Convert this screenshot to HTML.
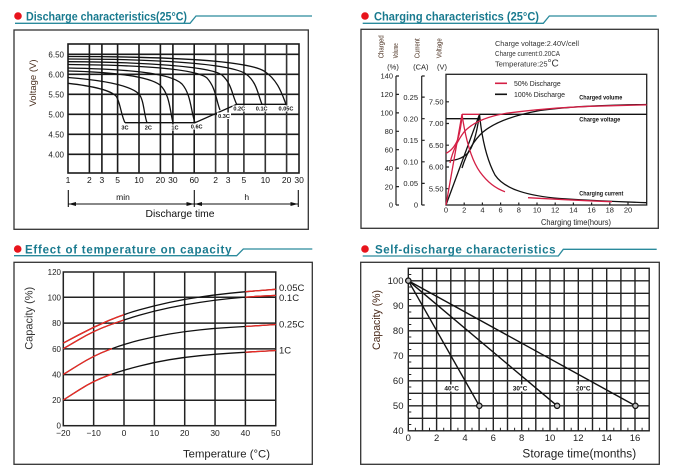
<!DOCTYPE html>
<html><head><meta charset="utf-8"><style>
html,body{margin:0;padding:0;background:#fff;}
svg{display:block;font-family:"Liberation Sans",Arial,sans-serif;}
</style></head><body>
<svg width="674" height="471" viewBox="0 0 674 471" xmlns="http://www.w3.org/2000/svg">
<rect width="674" height="471" fill="#fff"/>
<defs>
<clipPath id="cl0"><rect x="0" y="250" width="124" height="200"/></clipPath>
<clipPath id="cl1"><rect x="0" y="250" width="112" height="200"/></clipPath>
<clipPath id="cr"><rect x="245.4" y="250" width="60" height="200"/></clipPath>
</defs>

<!-- ================= TITLES ================= -->
<g fill="#e8141c">
<circle cx="18" cy="16" r="3.8"/><circle cx="365" cy="16" r="3.8"/>
<circle cx="17.7" cy="249" r="3.8"/><circle cx="365" cy="249" r="3.8"/>
</g>
<g fill="#197a8f" font-weight="bold" font-size="11.5">
<text x="26" y="20.5" textLength="161" lengthAdjust="spacingAndGlyphs">Discharge characteristics(25°C)</text>
<text x="374" y="20.5" textLength="165" lengthAdjust="spacingAndGlyphs">Charging characteristics (25°C)</text>
<text x="25" y="253.5" textLength="206.5" lengthAdjust="spacing">Effect of temperature on capacity</text>
<text x="375" y="253.5" textLength="180.5" lengthAdjust="spacing">Self-discharge characteristics</text>
</g>
<g fill="none" stroke="#2a8a9c" stroke-width="1.3">
<path d="M15,23.3 L190,23.3 L196,16 L312,16"/>
<path d="M362.7,23.3 L543.3,23.3 L549.3,16 L656.7,16"/>
<path d="M14,255.7 L236.7,255.7 L243.3,249 L312.3,249"/>
<path d="M362.7,256 L558.3,256 L563.3,249.3 L656.7,249.3"/>
</g>

<!-- ================= BOXES ================= -->
<g fill="none" stroke="#333" stroke-width="1.3">
<rect x="14" y="30" width="294.3" height="199.3"/>
<rect x="361" y="29.3" width="297.3" height="199"/>
<rect x="14" y="262.3" width="298.3" height="202"/>
<rect x="360.7" y="262.3" width="298.6" height="202"/>
</g>

<!-- ================= PANEL 1: DISCHARGE ================= -->
<g stroke="#1a1a1a" stroke-width="1.6" fill="none">
<rect x="68" y="44" width="231" height="129"/>
<path d="M68,54.3H299M68,74.3H299M68,94.3H299M68,114.3H299M68,134.3H299M68,154.3H299"/>
<path d="M89.4,44V173M101.9,44V173M117.6,44V173M139,44V173M160.4,44V173M172.9,44V173M194.2,44V173"/>
<path d="M215.6,44V173M228.1,44V173M243.9,44V173M265.3,44V173M286.6,44V173" stroke="#333"/>
</g>
<g stroke="#111" stroke-width="1.3" fill="none">
<path d="M68,83.3 C92,86 110,90 116,96 C120,101 121,115 125,122.7"/>
<path d="M68,77.5 C100,80 130,85 139,94 C144,100 144,115 147,122.7"/>
<path d="M68,71 C110,72 148,76 160,85 C170,94 170,112 173,122.7"/>
<path d="M68,68 C120,69 170,72 182,84 C191,94 191,112 195,122.7"/>
<path d="M68,64.5 C130,65 195,68 207,78 C216,88 216,100 220,110"/>
<path d="M68,61.7 C140,62 210,66 222,75 C232,84 232,95 236.7,104.3"/>
<path d="M68,59 C150,59 230,63 246,74 C257,82 258,95 262,104.3"/>
<path d="M68,56.5 C160,56.5 245,60 264,71 C278,80 282,94 286,104.3"/>
<path d="M125,122.7 H195 L236.7,104.3 H286"/>
</g>
<g fill="#fff">
<rect x="119.5" y="124.5" width="11" height="6"/><rect x="142.5" y="124.5" width="11" height="6"/>
<rect x="169.5" y="124.5" width="11" height="6"/><rect x="189.5" y="123.5" width="14" height="6"/>
<rect x="217" y="112.5" width="14" height="6.5"/><rect x="232.5" y="105.5" width="14" height="6"/>
<rect x="255" y="105.5" width="13.5" height="6"/><rect x="277.5" y="105.5" width="17" height="6"/>
</g>
<g font-size="5.6" font-weight="bold" fill="#111" text-anchor="middle">
<text x="125" y="129.5">3C</text><text x="148.3" y="129.5">2C</text><text x="175" y="129.5">1C</text>
<text x="196.7" y="128.7">0.6C</text><text x="224" y="117.8">0.3C</text><text x="239.3" y="110.4">0.2C</text>
<text x="261.7" y="110.4">0.1C</text><text x="286" y="110.4">0.05C</text>
</g>
<g font-size="8" fill="#222" text-anchor="end">
<text x="64" y="57.3">6.50</text><text x="64" y="77.3">6.00</text><text x="64" y="97.3">5.50</text>
<text x="64" y="117.3">5.00</text><text x="64" y="137.3">4.50</text><text x="64" y="157.3">4.00</text>
</g>
<text transform="translate(35.8,83) rotate(-90)" font-size="9.5" fill="#4a3020" text-anchor="middle" textLength="47" lengthAdjust="spacingAndGlyphs">Voltage (V)</text>
<g font-size="8.5" fill="#111" text-anchor="middle">
<text x="68" y="183">1</text><text x="89.4" y="183">2</text><text x="101.9" y="183">3</text><text x="117.6" y="183">5</text>
<text x="139" y="183">10</text><text x="160.4" y="183">20</text><text x="172.9" y="183">30</text><text x="194.2" y="183">60</text>
<text x="215.6" y="183">2</text><text x="228.1" y="183">3</text><text x="243.9" y="183">5</text>
<text x="265.3" y="183">10</text><text x="286.6" y="183">20</text><text x="299.1" y="183">30</text>
<text x="123" y="200">min</text><text x="246.7" y="200">h</text>
<text x="180" y="217" font-size="10.5" textLength="69" lengthAdjust="spacingAndGlyphs">Discharge time</text>
</g>
<g stroke="#111" stroke-width="1.1" fill="none">
<path d="M68.3,190V207M194.3,190V207M298.3,190V207M68.3,204H298.3"/>
</g>
<g fill="#111">
<polygon points="68.5,204 76,202 76,206"/><polygon points="194,204 186.5,202 186.5,206"/>
<polygon points="194.6,204 202,202 202,206"/><polygon points="298,204 290.5,202 290.5,206"/>
</g>

<!-- ================= PANEL 2: CHARGING ================= -->
<g font-size="7.5" fill="#333">
<text x="495" y="46" textLength="84" lengthAdjust="spacingAndGlyphs">Charge voltage:2.40V/cell</text>
<text x="495" y="56" textLength="65" lengthAdjust="spacingAndGlyphs">Charge current:0.20CA</text>
<text x="495" y="66.5">Temperature:25<tspan font-size="10">°C</tspan></text>
</g>
<g font-size="7.5" fill="#4a3020" text-anchor="start">
<text transform="translate(383.5,58.3) rotate(-90)" textLength="23" lengthAdjust="spacingAndGlyphs">Charged</text>
<text transform="translate(398,58.3) rotate(-90)" textLength="15" lengthAdjust="spacingAndGlyphs">Volume</text>
<text transform="translate(419.5,58.3) rotate(-90)" textLength="20" lengthAdjust="spacingAndGlyphs">Current</text>
<text transform="translate(441.6,58.3) rotate(-90)" textLength="20" lengthAdjust="spacingAndGlyphs">Voltage</text>
</g>
<g font-size="7.5" fill="#222" text-anchor="middle">
<text x="393" y="69.5">(%)</text><text x="420.8" y="69.5">(CA)</text><text x="442" y="69.5">(V)</text>
</g>
<g stroke="#222" stroke-width="1.2" fill="none">
<path d="M396,76V205M396,76h3M396,94.4h3M396,112.9h3M396,131.3h3M396,149.7h3M396,168.1h3M396,186.6h3M396,205h3"/>
<path d="M421.7,76V205M421.7,76h3M421.7,97.1h3M421.7,118.7h3M421.7,140.3h3M421.7,161.8h3M421.7,183.4h3M421.7,205h3"/>
<rect x="446" y="74.3" width="200.7" height="130.7" stroke-width="1.3"/>
<path d="M446,101.8h3M446,123.5h3M446,145.2h3M446,167h3M446,188.7h3"/>
<path d="M464.2,205v-2.5M482.4,205v-2.5M500.6,205v-2.5M518.8,205v-2.5M537,205v-2.5M555.2,205v-2.5M573.4,205v-2.5M591.6,205v-2.5M609.8,205v-2.5M628,205v-2.5"/>
</g>
<g font-size="7.5" fill="#222" text-anchor="end">
<text x="393" y="78.7">140</text><text x="393" y="97.1">120</text><text x="393" y="115.6">100</text><text x="393" y="134">80</text>
<text x="393" y="152.4">60</text><text x="393" y="170.8">40</text><text x="393" y="189.3">20</text><text x="393" y="207.7">0</text>
<text x="418" y="99.8">0.25</text><text x="418" y="121.4">0.20</text><text x="418" y="143">0.15</text>
<text x="418" y="164.5">0.10</text><text x="418" y="186.1">0.05</text><text x="418" y="207.7">0</text>
<text x="443.5" y="104.5">7.50</text><text x="443.5" y="126.2">7.00</text><text x="443.5" y="147.9">6.50</text>
<text x="443.5" y="169.7">6.00</text><text x="443.5" y="191.4">5.50</text>
</g>
<g font-size="7.5" fill="#222" text-anchor="middle">
<text x="446" y="212.5">0</text><text x="464.2" y="212.5">2</text><text x="482.4" y="212.5">4</text><text x="500.6" y="212.5">6</text>
<text x="518.8" y="212.5">8</text><text x="537" y="212.5">10</text><text x="555.2" y="212.5">12</text><text x="573.4" y="212.5">14</text>
<text x="591.6" y="212.5">16</text><text x="609.8" y="212.5">18</text><text x="628" y="212.5">20</text>
<text x="576" y="225" font-size="8" textLength="70" lengthAdjust="spacingAndGlyphs">Charging time(hours)</text>
</g>
<!-- black curves -->
<g stroke="#111" stroke-width="1.3" fill="none">
<path d="M446,118.7 L479.5,118.7"/>
<path d="M479.5,114.3 L646.7,114.3"/>
<path d="M446,205 L479.5,114.3"/>
<path d="M446,161 C455,160.5 462,159 468,153 C473,147 477,132 479.5,114.3"/>
<path d="M479.5,114.3 C482,140 487,160 495,175 C505,190 530,196 560,198.5 C590,200.5 620,201.8 646.7,202.7"/>
<path d="M462,168 C467,152 474,140 483,132 C495,122 515,115 540,110.5 C570,106 610,105 646.7,104.5"/>
</g>
<!-- red curves -->
<g stroke="#d41f45" stroke-width="1.3" fill="none">
<path d="M462,114.3 L479.5,114.3"/>
<path d="M446,205 L462,114.3"/>
<path d="M446,153.3 C451,151 455,146 457.5,140 C460,133 461.5,122 462.3,114.3"/>
<path d="M462,114.3 C465,135 470,158 480,172 C488,183 497,189 505,191.7"/>
<path d="M528,197.7 C560,199.5 590,201 612,201.7"/>
<path d="M450,163 C453,150 458,140 464,132 C472,123 485,117 505,113.5 C530,110 560,107.5 590,106.3 C615,105.5 635,105 646.7,104.8"/>
</g>
<path d="M495,83.3H507" stroke="#d41f45" stroke-width="1.6"/>
<path d="M495,94.3H507" stroke="#111" stroke-width="1.6"/>
<g font-size="7" fill="#222">
<text x="514" y="85.8" textLength="46.7" lengthAdjust="spacingAndGlyphs">50% Discharge</text>
<text x="514" y="96.8" textLength="51" lengthAdjust="spacingAndGlyphs">100% Discharge</text>
</g>
<g font-size="6" fill="#111" font-weight="bold">
<text x="579.3" y="99.5" textLength="43" lengthAdjust="spacingAndGlyphs">Charged volume</text>
<text x="579.3" y="121.5" textLength="41" lengthAdjust="spacingAndGlyphs">Charge voltage</text>
<text x="579.3" y="195.5" textLength="44" lengthAdjust="spacingAndGlyphs">Charging current</text>
</g>

<!-- ================= PANEL 3: TEMPERATURE ================= -->
<g stroke="#222" stroke-width="1.5" fill="none">
<rect x="63.3" y="272" width="212.45" height="153.7"/>
<path d="M63.3,297.3H275.75M63.3,323.1H275.75M63.3,348.9H275.75M63.3,374.6H275.75M63.3,400.2H275.75"/>
<path d="M93.65,272V425.7M124,272V425.7M154.35,272V425.7M184.7,272V425.7M215.05,272V425.7M245.4,272V425.7"/>
</g>
<g id="t3" stroke-width="1.3" fill="none">
<path id="c05" d="M63.3,343.1 L78.5,335 Q93.65,326.9 108.8,320.5 Q124,314.1 139.2,309.9 Q154.35,305.7 169.5,302.4 Q184.7,299.1 199.9,297 Q215.05,294.8 230.2,293.2 Q245.4,291.6 260.6,290.5 L275.75,289.3"/>
<path id="c1" d="M63.3,348.7 L78.5,339.8 Q93.65,330.8 108.8,325.3 Q124,319.7 139.2,315.3 Q154.35,310.9 169.5,307.8 Q184.7,304.7 199.9,302.4 Q215.05,300 230.2,298.5 Q245.4,297 260.6,296.2 L275.75,295.4"/>
<path id="c25" d="M63.3,374.4 L78.5,365 Q93.65,355.5 108.8,349.8 Q124,344.1 139.2,340.3 Q154.35,336.5 169.5,334 Q184.7,331.5 199.9,329.9 Q215.05,328.2 230.2,327.4 Q245.4,326.5 260.6,325.5 L275.75,324.5"/>
<path id="c1c" d="M63.3,400 L78.5,390.3 Q93.65,380.5 108.8,375.2 Q124,369.9 139.2,366.1 Q154.35,362.2 169.5,359.7 Q184.7,357.2 199.9,355.7 Q215.05,354.1 230.2,353.2 Q245.4,352.2 260.6,351.4 L275.75,350.5"/>
</g>
<g stroke="#111" stroke-width="1.3" fill="none">
<use href="#c05"/><use href="#c1"/><use href="#c25"/><use href="#c1c"/>
</g>
<g stroke="#ee2a24" stroke-width="1.3" fill="none">
<g clip-path="url(#cl0)"><use href="#c05"/><use href="#c1"/></g>
<g clip-path="url(#cl1)"><use href="#c25"/><use href="#c1c"/></g>
<g clip-path="url(#cr)"><use href="#c05"/><use href="#c1"/><use href="#c25"/><use href="#c1c"/></g>
</g>
<g font-size="9.5" fill="#222">
<text x="279" y="291">0.05C</text><text x="279" y="301">0.1C</text>
<text x="279" y="327.5">0.25C</text><text x="279" y="353.5">1C</text>
</g>
<g font-size="8" fill="#222" text-anchor="end">
<text x="61" y="275">120</text><text x="61" y="300.3">100</text><text x="61" y="326.1">80</text>
<text x="61" y="351.9">60</text><text x="61" y="377.6">40</text><text x="61" y="403.2">20</text><text x="61" y="428.7">0</text>
</g>
<g font-size="8.5" fill="#222" text-anchor="middle">
<text x="63.3" y="436">−20</text><text x="93.65" y="436">−10</text><text x="124" y="436">0</text>
<text x="154.35" y="436">10</text><text x="184.7" y="436">20</text><text x="215.05" y="436">30</text>
<text x="245.4" y="436">40</text><text x="275.75" y="436">50</text>
<text x="226.5" y="457.5" font-size="11" textLength="87" lengthAdjust="spacingAndGlyphs">Temperature (°C)</text>
</g>
<text transform="translate(32.3,318.3) rotate(-90)" font-size="11" fill="#333" text-anchor="middle" textLength="63" lengthAdjust="spacingAndGlyphs">Capacity (%)</text>

<!-- ================= PANEL 4: SELF-DISCHARGE ================= -->
<g stroke="#222" stroke-width="1.4" fill="none">
<rect x="408.3" y="268.3" width="240.9" height="162.5"/>
<path d="M408.3,280.8H649.2M408.3,293.3H649.2M408.3,305.8H649.2M408.3,318.3H649.2M408.3,330.8H649.2M408.3,343.3H649.2M408.3,355.8H649.2M408.3,368.3H649.2M408.3,380.8H649.2M408.3,393.3H649.2M408.3,405.8H649.2M408.3,418.3H649.2"/>
<path d="M422.5,268.3V430.8M436.6,268.3V430.8M450.8,268.3V430.8M465,268.3V430.8M479.1,268.3V430.8M493.3,268.3V430.8M507.5,268.3V430.8M521.7,268.3V430.8M535.8,268.3V430.8M550,268.3V430.8M564.2,268.3V430.8M578.3,268.3V430.8M592.5,268.3V430.8M606.7,268.3V430.8M620.9,268.3V430.8M635,268.3V430.8"/>
</g>
<g stroke="#222" stroke-width="1" fill="none">
<path d="M408.3,274.5h3M408.3,287h3M408.3,299.5h3M408.3,312h3M408.3,324.5h3M408.3,337h3M408.3,349.5h3M408.3,362h3M408.3,374.5h3M408.3,387h3M408.3,399.5h3M408.3,412h3M408.3,424.5h3"/>
<path d="M415.4,430.8v-3M429.5,430.8v-3M443.7,430.8v-3M457.9,430.8v-3M472,430.8v-3M486.2,430.8v-3M500.4,430.8v-3M514.6,430.8v-3M528.7,430.8v-3M542.9,430.8v-3M557.1,430.8v-3M571.2,430.8v-3M585.4,430.8v-3M599.6,430.8v-3M613.8,430.8v-3M627.9,430.8v-3M642.1,430.8v-3"/>
</g>
<g stroke="#111" stroke-width="1.4" fill="none">
<path d="M408.3,280.7 L479.3,405.8"/>
<path d="M408.3,280.7 L557.1,405.8"/>
<path d="M408.3,280.7 L635.4,405.8"/>
</g>
<g stroke="#111" stroke-width="1.2" fill="#bbb">
<circle cx="408.3" cy="280.7" r="2.7"/><circle cx="479.3" cy="405.8" r="2.7"/>
<circle cx="557.1" cy="405.8" r="2.7"/><circle cx="635.4" cy="405.8" r="2.7"/>
</g>
<g fill="#fff">
<rect x="445" y="384.5" width="13" height="7"/><rect x="513.5" y="384.5" width="13" height="7"/><rect x="577" y="384.5" width="13" height="7"/>
</g>
<g font-size="6.5" font-weight="bold" fill="#111" text-anchor="middle">
<text x="451.7" y="390.6">40°C</text><text x="520" y="390.6">30°C</text><text x="583.3" y="390.6">20°C</text>
</g>
<g font-size="9.5" fill="#222" text-anchor="end">
<text x="403.5" y="284.1">100</text><text x="403.5" y="309.1">90</text><text x="403.5" y="334.1">80</text>
<text x="403.5" y="359.1">70</text><text x="403.5" y="384.1">60</text><text x="403.5" y="409.1">50</text><text x="403.5" y="434.1">40</text>
</g>
<g font-size="9.5" fill="#222" text-anchor="middle">
<text x="408.3" y="441">0</text><text x="436.6" y="441">2</text><text x="465" y="441">4</text><text x="493.3" y="441">6</text>
<text x="521.7" y="441">8</text><text x="550" y="441">10</text><text x="578.3" y="441">12</text><text x="606.7" y="441">14</text><text x="635" y="441">16</text>
<text x="579.3" y="457.5" font-size="11.5" textLength="113.7" lengthAdjust="spacingAndGlyphs">Storage time(months)</text>
</g>
<text transform="translate(380,320) rotate(-90)" font-size="11" fill="#4a2a1a" text-anchor="middle" textLength="60" lengthAdjust="spacingAndGlyphs">Capacity (%)</text>
</svg>
</body></html>
